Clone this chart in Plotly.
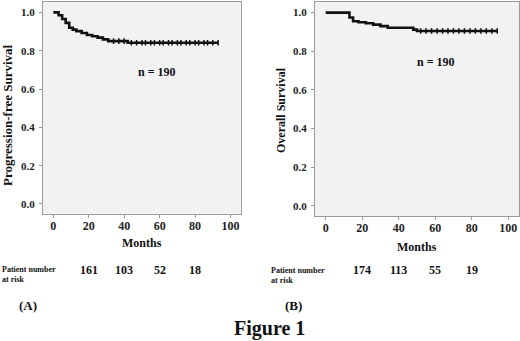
import plotly.graph_objects as go

# ---- data ----
pfs_months = [0, 3, 5, 7, 9, 11, 13, 16, 19, 22, 25, 28, 31, 42, 93]
pfs_surv = [1.0, 0.985, 0.965, 0.945, 0.92, 0.91, 0.902, 0.892, 0.882, 0.875, 0.868, 0.859, 0.85, 0.841, 0.841]
pfs_censor = [34, 37, 40, 44, 47, 50, 52, 55, 57, 60, 62, 65, 67, 70, 72, 75, 77, 80, 82, 85, 87, 90, 93]

os_months = [0, 13, 15, 18, 22, 26, 30, 34, 48, 50, 94]
os_surv = [1.0, 0.975, 0.955, 0.95, 0.945, 0.938, 0.93, 0.922, 0.912, 0.905, 0.905]
os_censor = [52, 55, 58, 61, 64, 67, 70, 73, 76, 79, 82, 85, 88, 91, 94]

risk_times = [20, 40, 60, 80]
risk_a = [161, 103, 52, 18]
risk_b = [174, 113, 55, 19]

x_ticks = [0, 20, 40, 60, 80, 100]
y_ticks = [0.0, 0.2, 0.4, 0.6, 0.8, 1.0]

FONT = "Liberation Serif"
W, H = 520, 341


def step_value(times, surv, t):
    v = surv[0]
    for tt, ss in zip(times, surv):
        if tt <= t:
            v = ss
    return v


fig = go.Figure()

# curves
fig.add_trace(go.Scatter(x=pfs_months, y=pfs_surv, mode="lines", line=dict(color="#111", width=2.6, shape="hv"),
                         xaxis="x", yaxis="y", showlegend=False))
fig.add_trace(go.Scatter(x=pfs_censor, y=[step_value(pfs_months, pfs_surv, t) for t in pfs_censor], mode="markers",
                         marker=dict(symbol="line-ns", size=4, line=dict(color="#111", width=1.5)),
                         xaxis="x", yaxis="y", showlegend=False))
fig.add_trace(go.Scatter(x=os_months, y=os_surv, mode="lines", line=dict(color="#111", width=2.6, shape="hv"),
                         xaxis="x2", yaxis="y2", showlegend=False))
fig.add_trace(go.Scatter(x=os_censor, y=[step_value(os_months, os_surv, t) for t in os_censor], mode="markers",
                         marker=dict(symbol="line-ns", size=4, line=dict(color="#111", width=1.5)),
                         xaxis="x2", yaxis="y2", showlegend=False))

axis_common = dict(showgrid=False, zeroline=False, showline=True, linecolor="#9a9a9a", linewidth=1, mirror=True,
                   ticks="outside", ticklen=3, tickcolor="#9a9a9a")
xfont = dict(family=FONT, size=12, color="#222", weight="bold")
yfont = dict(family=FONT, size=11, color="#222", weight="bold")

fig.update_layout(
    width=W, height=H, margin=dict(l=0, r=0, t=0, b=0),
    paper_bgcolor="white", plot_bgcolor="#f1f2f1",
    xaxis=dict(domain=[43 / W, 240.5 / W], range=[-5.8, 105.6], tickvals=x_ticks, anchor="y",
               tickfont=xfont, ticklabelstandoff=-2, **axis_common),
    yaxis=dict(domain=[1 - 213.5 / H, 1 - 2 / H], range=[-0.0496, 1.054], tickvals=y_ticks, tickformat=".1f",
               anchor="x", tickfont=yfont, ticklabelstandoff=2, **axis_common),
    xaxis2=dict(domain=[315 / W, 519 / W], range=[-5.86, 105.9], tickvals=x_ticks, anchor="y2",
                tickfont=xfont, ticklabelstandoff=-2, **axis_common),
    yaxis2=dict(domain=[1 - 216 / H, 1 - 2 / H], range=[-0.053, 1.055], tickvals=y_ticks, tickformat=".1f",
                anchor="x2", tickfont=yfont, ticklabelstandoff=2, **axis_common),
)

ann = []
bold = dict(family=FONT, color="#111", weight="bold")


def add(x, y, text, size, xref="paper", yref="paper", **kw):
    d = dict(x=x, y=y, xref=xref, yref=yref, text=text, showarrow=False,
             xanchor="center", yanchor="middle", font=dict(size=size, **bold))
    d.update(kw)
    ann.append(d)


# n = 190
add(58.6, 0.69, "n = 190", 12, xref="x", yref="y")
add(60.4, 0.746, "n = 190", 12, xref="x2", yref="y2")
# y titles
add(8 / W, 1 - 115 / H, "Progression-free Survival", 13, textangle=-90)
add(281 / W, 1 - 110 / H, "Overall Survival", 12, textangle=-90)
# x titles
add(142 / W, 1 - 243 / H, "Months", 12)
add(417 / W, 1 - 247 / H, "Months", 12)
# at-risk labels
add(0 / W, 1 - 274 / H, "Patient number<br>at risk", 8, xanchor="left", align="left")
add(269 / W, 1 - 275 / H, "Patient number<br>at risk", 8, xanchor="left", align="left")
for t, n in zip(risk_times, risk_a):
    add(t, 1 - 270 / H, str(n), 12, xref="x")
for t, n in zip(risk_times, risk_b):
    add(t, 1 - 270 / H, str(n), 12, xref="x2")
# panel labels
add(28 / W, 1 - 305 / H, "(A)", 13)
add(293 / W, 1 - 305 / H, "(B)", 13)
add(269 / W, 1 - 328 / H, "Figure 1", 20)
fig.update_layout(annotations=ann)

fig.write_html("out.html", config={"displayModeBar": False},
               post_script="document.body.style.margin='0';document.body.style.overflow='hidden';")
